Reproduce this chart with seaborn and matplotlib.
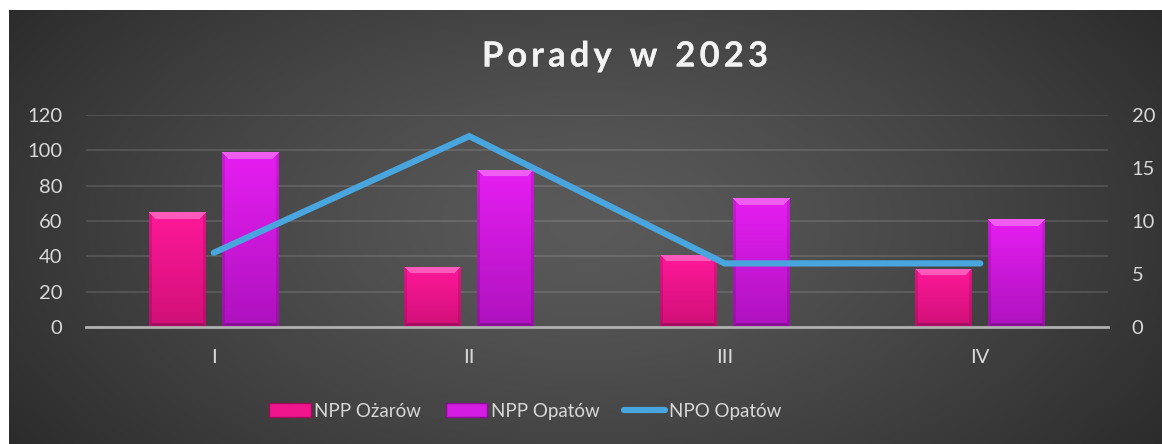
import matplotlib
matplotlib.use("Agg")
import matplotlib.pyplot as plt
import matplotlib.patheffects as pe
from matplotlib.lines import Line2D
from matplotlib.patches import Patch
import numpy as np
import pandas as pd
import seaborn as sns

# data
categories = ["I", "II", "III", "IV"]
npp_ozarow = [65, 34, 41, 33]
npp_opatow = [99, 89, 73, 61]
npo_opatow = [7, 18, 6, 6]
series_names = ["NPP Ożarów", "NPP Opatów", "NPO Opatów"]
title = "Porady w 2023"

df = pd.DataFrame({
    "kwartal": categories * 2,
    "seria": [series_names[0]] * 4 + [series_names[1]] * 4,
    "porady": npp_ozarow + npp_opatow,
})

sns.set_theme(style="dark")
plt.rcParams["font.family"] = ["Lato", "DejaVu Sans"]

W, H, DPI = 1162, 444, 100
fig = plt.figure(figsize=(W / DPI, H / DPI), dpi=DPI, facecolor="white")

# radial dark background (chart area starts a few px in, white border top/left)
bg_ax = fig.add_axes([9 / W, 0, 1 - 9 / W, 1 - 10 / H])
bg_ax.set_axis_off()
yy, xx = np.mgrid[0:434, 0:1153]
d = np.sqrt(((xx - 576) / 760) ** 2 + ((yy - 215) / 420) ** 2)
d = np.clip(d, 0, 1) ** 1.3
c0, c1 = 0x5a / 255, 0x26 / 255
g = c0 - (c0 - c1) * d
bg_ax.imshow(np.dstack([g, g, g]), aspect="auto", interpolation="bilinear")

ax = fig.add_axes([86 / W, 117 / H, (1108 - 86) / W, (327 - 115) / H])
ax.set_facecolor("none")
ax.patch.set_alpha(0)

palette = {series_names[0]: "#f0158c", series_names[1]: "#d31be2"}
sns.barplot(data=df, x="kwartal", y="porady", hue="seria", palette=palette,
            width=0.571, gap=0.22, ax=ax, legend=False, saturation=1,
            edgecolor="none", zorder=3)

ax.set_xlim(-0.5, 3.5)
ax.set_ylim(0, 120)
ax.set_yticks(range(0, 121, 20))
ax.set_xlabel("")
ax.set_ylabel("")
ax.grid(axis="y", color="#ffffff", alpha=0.14, lw=1.2, zorder=0)
ax.grid(axis="x", visible=False)
for s in ["top", "left", "right"]:
    ax.spines[s].set_visible(False)
ax.spines["bottom"].set_color("#b0b0b0")
ax.spines["bottom"].set_linewidth(2)
ax.spines["bottom"].set_zorder(6)
ax.tick_params(axis="y", length=0, pad=17, labelsize=14.5, labelcolor="#d9d9d9")
ax.tick_params(axis="x", length=0, pad=16, labelsize=14.5, labelcolor="#d9d9d9")

# bevelled gradient fill for each bar
fig.canvas.draw()
shades = {
    "#f0158c": ((0xff, 0x18, 0x98), (0xd0, 0x10, 0x78)),
    "#d31be2": ((0xe6, 0x1e, 0xf2), (0xae, 0x12, 0xbe)),
}
for bar in list(ax.patches):
    fc = matplotlib.colors.to_hex(bar.get_facecolor())
    top, bot = shades.get(fc, ((255, 255, 255), (200, 200, 200)))
    x0, y0 = bar.get_x(), bar.get_y()
    x1, y1 = x0 + bar.get_width(), y0 + bar.get_height()
    p0 = ax.transData.transform((x0, y0))
    p1 = ax.transData.transform((x1, y1))
    wpx = max(int(round(p1[0] - p0[0])), 2)
    hpx = max(int(round(p1[1] - p0[1])), 2)
    t = np.linspace(0, 1, hpx)[:, None, None]
    img = (1 - t) * np.array(top) / 255 + t * np.array(bot) / 255
    img = np.repeat(img, wpx, axis=1)
    r, c = np.mgrid[0:hpx, 0:wpx]
    dl, dr, dt, db = c, wpx - 1 - c, r, hpx - 1 - r
    b = 7
    top_m = (dt < b) & (dt <= dl) & (dt <= dr)
    bot_m = (db < 4) & (db <= dl) & (db <= dr)
    side_m = ((dl < 3) | (dr < 3)) & ~top_m & ~bot_m
    img[top_m] = img[top_m] * 0.6 + 0.4 * np.array([1.0, 0.75, 0.95])
    img[bot_m] = img[bot_m] * 0.8
    img[side_m] = img[side_m] * 0.88
    im = ax.imshow(img, extent=(x0, x1, y0, y1), aspect="auto", origin="upper",
                   interpolation="bilinear", zorder=4)
    im.set_clip_path(bar)
ax.set_xlim(-0.5, 3.5)
ax.set_ylim(0, 120)

# secondary axis with the line
ax2 = ax.twinx()
sns.lineplot(x=np.arange(len(categories)), y=npo_opatow, ax=ax2, color="#49a5dd",
             lw=4.5, solid_capstyle="round", solid_joinstyle="miter", zorder=5)
ax2.set_ylim(0, 20)
ax2.set_yticks(range(0, 21, 5))
ax2.grid(False)
for s in ax2.spines.values():
    s.set_visible(False)
ax2.tick_params(axis="y", length=0, pad=17, labelsize=14.5, labelcolor="#d9d9d9")
ax2.set_ylabel("")

# title with letter spacing: place glyph by glyph
renderer = fig.canvas.get_renderer()
tkw = dict(fontsize=25, fontweight="bold", color="#f2f2f2", va="baseline", ha="left",
           path_effects=[pe.withSimplePatchShadow(offset=(1.5, -1.5), alpha=0.5), pe.Normal()])
track = 4.0
widths = []
for ch in title:
    tmp = fig.text(0, 0, ch if ch != " " else "n", **tkw)
    w = tmp.get_window_extent(renderer).width
    widths.append(w * (0.5 if ch == " " else 1.0))
    tmp.remove()
total = sum(widths) + track * (len(title) - 1)
xpos = 625 - total / 2
for ch, w in zip(title, widths):
    if ch != " ":
        fig.text(xpos / W, 1 - 66.5 / H, ch, **tkw)
    xpos += w + track

handles = [
    Patch(facecolor="#f0158c", edgecolor="#a00c5c", label=series_names[0]),
    Patch(facecolor="#d31be2", edgecolor="#8a0c96", label=series_names[1]),
    Line2D([0], [0], color="#49a5dd", lw=4.5, solid_capstyle="round", label=series_names[2]),
]
leg = fig.legend(handles=handles, loc="center", bbox_to_anchor=(0.452, 1 - 411 / H),
                 ncol=3, frameon=False, fontsize=13.5, handlelength=2.2, handleheight=0.75,
                 handletextpad=0.2, columnspacing=1.3)
for txt in leg.get_texts():
    txt.set_color("#d9d9d9")

fig.savefig("out.png", dpi=DPI, facecolor="white")
